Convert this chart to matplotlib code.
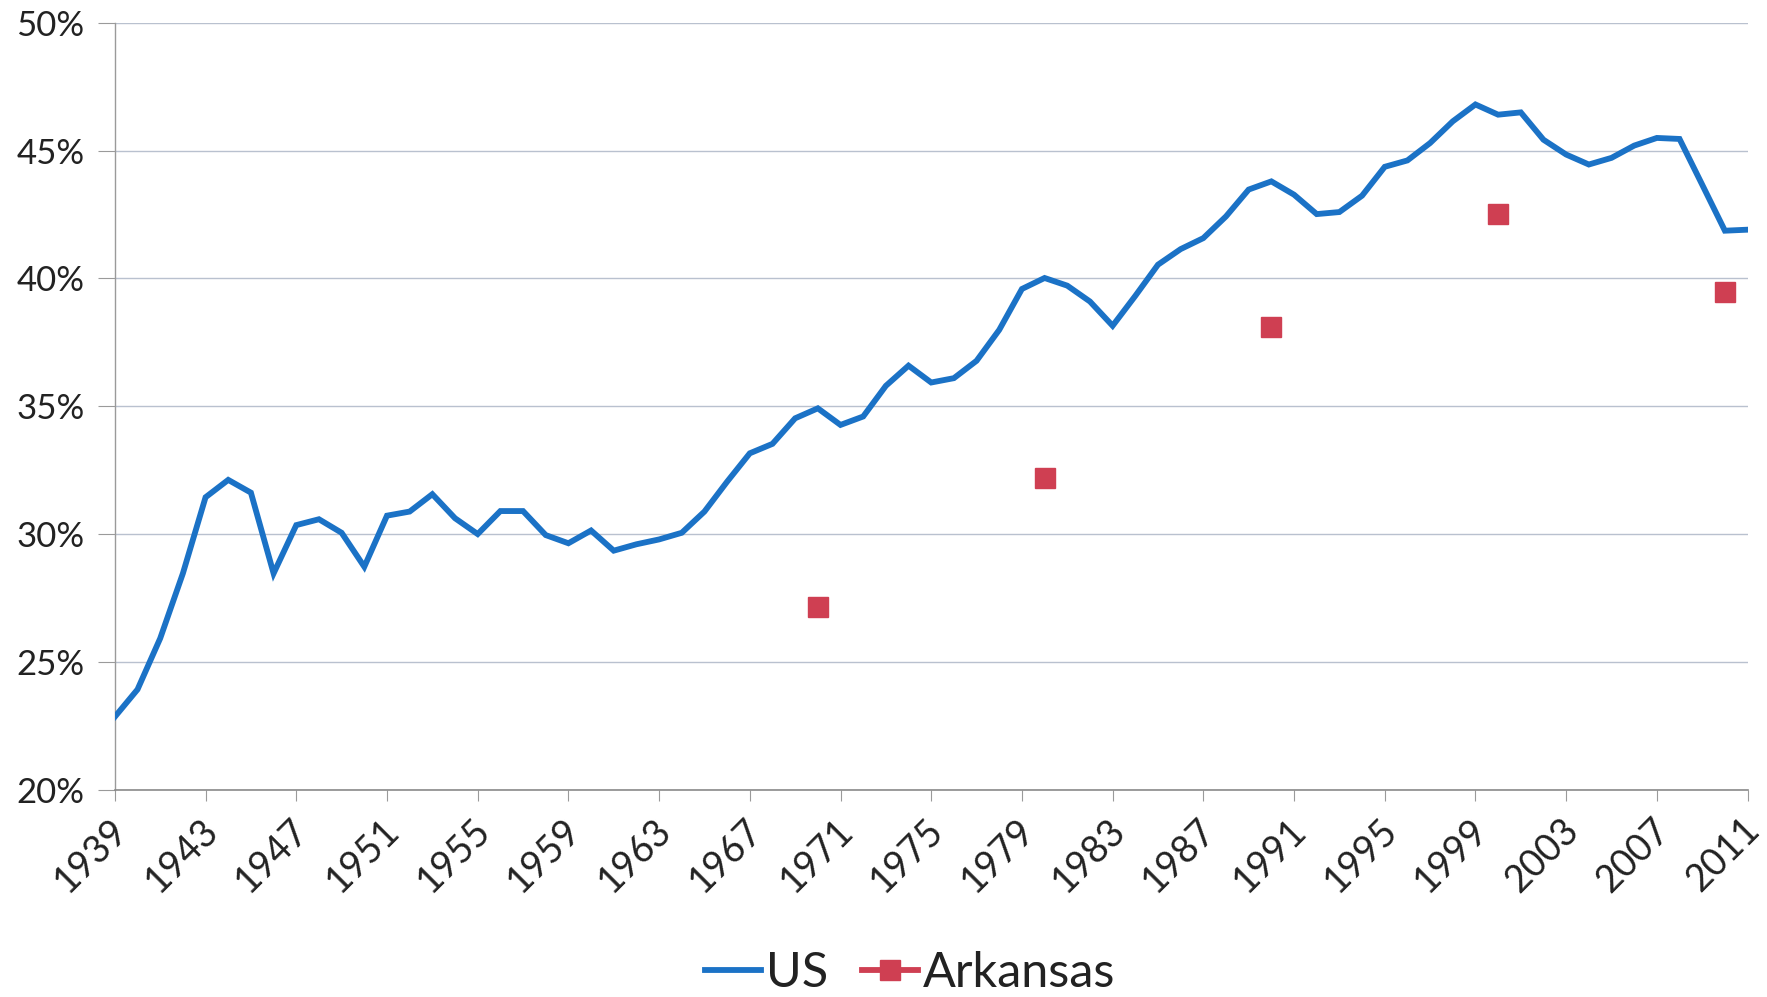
import numpy as np
import matplotlib
matplotlib.use("Agg")
import matplotlib.pyplot as plt
import matplotlib.transforms as mtransforms
from matplotlib.lines import Line2D
from matplotlib.ticker import FuncFormatter, MultipleLocator

plt.rcParams['font.family'] = ['Lato', 'DejaVu Sans']

# US share, one value per year 1939..2011
us_years = list(range(1939, 2012))
us_values = [
    22.85, 23.92, 25.92, 28.46, 31.44, 32.12, 31.62, 28.46, 30.35, 30.58,  # 1939-1948
    30.05, 28.72, 30.72, 30.88, 31.56, 30.62, 30.00, 30.90, 30.90, 29.96,  # 1949-1958
    29.64, 30.14, 29.35, 29.60, 29.79, 30.05, 30.88, 32.05, 33.16, 33.53,  # 1959-1968
    34.53, 34.92, 34.27, 34.60, 35.80, 36.59, 35.93, 36.10, 36.78, 37.99,  # 1969-1978
    39.59, 40.02, 39.72, 39.10, 38.15, 39.32, 40.54, 41.15, 41.58, 42.43,  # 1979-1988
    43.48, 43.80, 43.28, 42.52, 42.60, 43.24, 44.37, 44.62, 45.30, 46.15,  # 1989-1998
    46.81, 46.41, 46.50, 45.43, 44.85, 44.46, 44.72, 45.20, 45.50, 45.46,  # 1999-2008
    43.67, 41.87, 41.91,                                                  # 2009-2011
]

ark_years = [1970, 1980, 1990, 2000, 2010]
ark_values = [27.15, 32.2, 38.12, 42.52, 39.48]

tick_years = list(range(1939, 2012, 4))

us_color = '#1b72c6'
ark_color = '#cf3f52'

fig = plt.figure(figsize=(17.67, 9.97), dpi=100)
ax = fig.add_axes([0.065, 0.208, 0.924, 0.769])

ax.plot(us_years, us_values, color=us_color, lw=4.2, solid_joinstyle='miter', zorder=3)
ax.plot(ark_years, ark_values, linestyle='none', marker='s', markersize=14,
        color=ark_color, zorder=4)

ax.set_xlim(1939, 2011)
ax.set_ylim(20, 50)
ax.yaxis.set_major_locator(MultipleLocator(5))
ax.yaxis.set_major_formatter(FuncFormatter(lambda v, p: f"{v:.0f}%"))
ax.set_xticks(tick_years)
ax.set_xticklabels([])

# slanted year labels, set a bit left of each tick like the original
shift = mtransforms.ScaledTranslation(-0.06, -0.22, fig.dpi_scale_trans)
for yr in tick_years:
    ax.text(yr, 0, str(yr), transform=ax.get_xaxis_transform() + shift,
            rotation=45, rotation_mode='anchor', ha='right', va='top',
            fontsize=27, color='#222222')

ax.grid(axis='y', color='#b9c1cf', lw=1.0)
ax.set_axisbelow(True)
for s in ['top', 'right']:
    ax.spines[s].set_visible(False)
ax.spines['left'].set_color('#9a9a9a')
ax.spines['bottom'].set_color('#8a8a8a')
ax.spines['left'].set_linewidth(1.0)
ax.spines['bottom'].set_linewidth(1.2)

ax.tick_params(axis='y', length=12, color='#9a9a9a', labelsize=25, pad=10,
               labelcolor='#222222')
ax.tick_params(axis='x', length=8, color='#9a9a9a')

handles = [
    Line2D([], [], color=us_color, lw=4.2),
    Line2D([], [], color=ark_color, lw=4.2, marker='s', markersize=14),
]
fig.legend(handles, ['US', 'Arkansas'], loc='lower center', bbox_to_anchor=(0.515, -0.042),
           ncol=2, frameon=False, fontsize=35, handlelength=1.15, handletextpad=0.1,
           columnspacing=0.7, labelcolor='#222222')

fig.savefig('out.png', dpi=100, facecolor='white')
